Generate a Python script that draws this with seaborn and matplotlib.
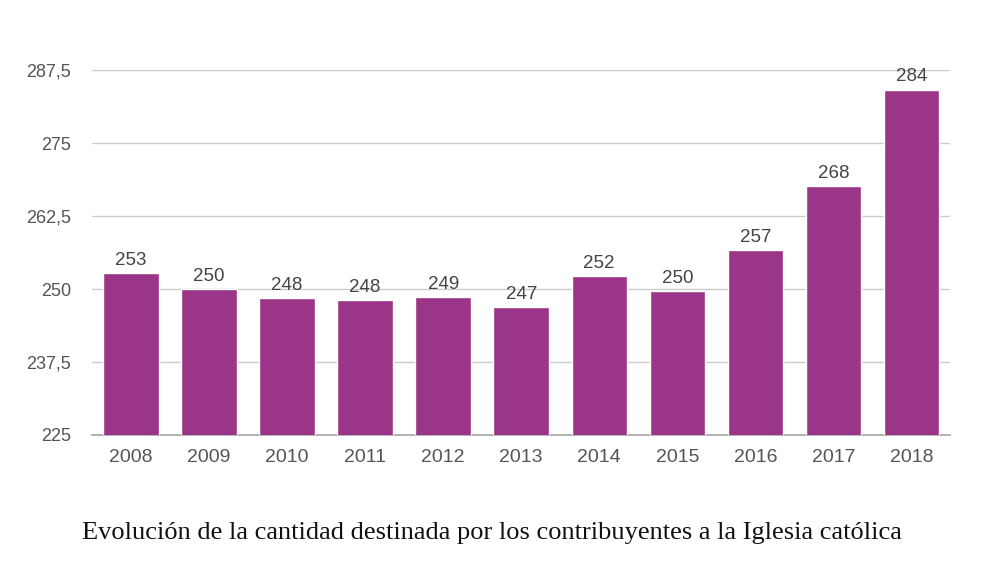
import matplotlib
matplotlib.use("Agg")
import matplotlib.pyplot as plt
import seaborn as sns
import pandas as pd

# datos
years = ["2008", "2009", "2010", "2011", "2012", "2013", "2014", "2015", "2016", "2017", "2018"]
amounts = [252.7, 250.0, 248.4, 248.1, 248.6, 246.9, 252.2, 249.7, 256.7, 267.6, 284.2]
value_labels = ["253", "250", "248", "248", "249", "247", "252", "250", "257", "268", "284"]
y_ticks = [225, 237.5, 250, 262.5, 275, 287.5]
y_tick_labels = ["225", "237,5", "250", "262,5", "275", "287,5"]
caption = "Evolución de la cantidad destinada por los contribuyentes a la Iglesia católica"

df = pd.DataFrame({"year": years, "amount": amounts})

sns.set_theme(style="white")
plt.rcParams['font.family'] = ['Liberation Sans', 'DejaVu Sans']

fig = plt.figure(figsize=(9.89, 5.76), dpi=100)
ax = fig.add_axes([0.093, 0.245, 0.868, 0.633])

sns.barplot(data=df, x="year", y="amount", color="#9b3587", saturation=1,
            width=0.71, ax=ax, zorder=3)

ax.set_ylim(225, 287.5)
ax.set_xlim(-0.5, 10.5)
ax.set_yticks(y_ticks)
ax.set_yticklabels(y_tick_labels)
ax.yaxis.grid(True, color="#cccccc", linewidth=1, zorder=0)
ax.set_axisbelow(True)
for s in ["top", "right", "left"]:
    ax.spines[s].set_visible(False)
ax.spines["bottom"].set_color("#aaaaaa")
ax.tick_params(axis="y", length=0, labelsize=13, labelcolor="#555555", pad=15)
ax.tick_params(axis="x", length=0, labelsize=14, labelcolor="#555555", pad=10)
ax.set_xlabel("")
ax.set_ylabel("")

ax.bar_label(ax.containers[0], labels=value_labels, padding=3, fontsize=13.5, color="#444444")

fig.text(0.497, 0.075, caption, ha="center", va="center", fontsize=19,
         family=["Liberation Serif", "DejaVu Serif"], color="#111111")

fig.savefig("out.png", dpi=100)
